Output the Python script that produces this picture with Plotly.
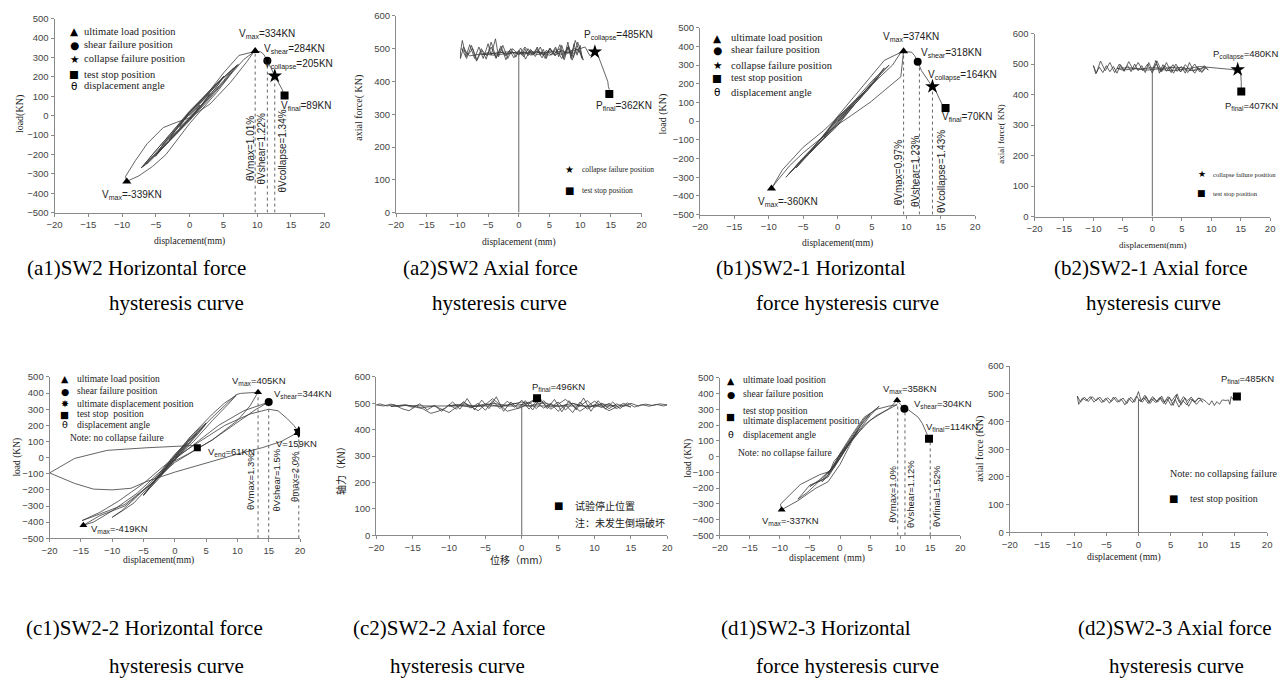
import plotly.graph_objects as go

W, H = 1287, 684
SANS = "Liberation Sans, Arial, sans-serif"
SERIF = "Liberation Serif, Times New Roman, serif"
CJK = "Noto Sans CJK SC, sans-serif"
LINE = "#3c3c3c"

# ---------------- data ----------------
# (a1) SW2 horizontal load
a1_disp = [0, 0.8, 1.5, 0.9, 0, -0.8, -1.5, -0.9, 0,
           1.5, 3, 2.2, 1, 0, -1.5, -3, -2.2, -1, 0,
           2.5, 5, 4, 2, 0, -2.5, -5, -4, -2, 0,
           2.6, 5.1, 3.8, 0, -2.6, -5.1, -3.8, 0,
           2, 4.5, 6.5, 5, 2.5, 0, -2.5, -4.5, -6.5, -5, -2.5, 0,
           3.5, 7, 5.5, 3, 0, -3.5, -6, -7, -5.5, -3, 0,
           3.6, 7.2, 5, 0, -3.6, -7.2, -5, 0,
           3, 5, 7.3, 9.5, 8.5, 6, 3, 0, -2, -3.9, -6.3, -8, -9.5, -9.3, -7.5, -5.5, -3.5, -2, 0,
           2, 4, 6, 8, 9.7, 10.5, 11, 11.5, 12, 12.6, 13.2, 13.7, 14.05]
a1_load = [0, 30, 55, 25, -8, -35, -60, -25, 8,
           60, 115, 75, 25, -15, -70, -125, -80, -30, 10,
           100, 200, 150, 65, -20, -110, -205, -150, -70, 20,
           110, 205, 140, -15, -115, -210, -140, 18,
           85, 180, 245, 180, 80, -15, -100, -180, -250, -190, -95, 15,
           150, 260, 190, 90, -25, -150, -240, -265, -200, -100, 25,
           150, 265, 175, -20, -150, -270, -180, 20,
           130, 220, 311, 330, 280, 170, 60, -10, -35, -61, -145, -230, -314, -339, -310, -262, -200, -130, -40,
           40, 120, 210, 290, 334, 330, 315, 284, 250, 205, 170, 135, 104]
a1_ult = ([9.7, -9.3], [334, -339])
a1_shear = ([11.5], [284])
a1_collapse = ([12.6], [205])
a1_final = ([14.05], [104])
a1_guides = ([9.7, 11.5, 12.6], [334, 284, 205])

# (a2) SW2 axial force
a2_disp = [0, 0.5, 1, 1.5, 2, 2.5, 3, 3.5, 4, 4.5, 5, 5.5, 6, 6.5, 7, 7.5, 8, 8.5, 9, 9.5, 10, 10.3,
           9.8, 9.2, 8.6, 8, 7.3, 6.6, 5.8, 5, 4, 3, 2, 1, 0, -1, -1.8, -2.6, -3.3, -3.8, -4.5, -5, -5.8, -6.5, -7.2, -8, -8.6, -9.2, -9.5,
           -9.5, -9, -8.3, -7.5, -6.8, -6, -5.2, -4.5, -3.7, -3, -2.2, -1.5, -0.8, 0, 0.8, 1.5, 2.3, 3, 3.8, 4.5, 5.3, 6, 7, 8, 8.7, 9.3, 10, 10.5,
           9.6, 8.9, 8.1, 7.4, 6.7, 5.9, 5.1, 4.3, 3.5, 2.7, 1.9, 1.1, 0.3, -0.5, -1.3, -2.1, -2.9, -3.7, -4.5, -5.3, -6.1, -6.9, -7.7, -8.5, -9.3,
           -8, -6, -4, -2, 0, 1, 2, 3, 4, 5, 6, 7, 8, 9, 10, 9, 8, 7, 6, 5, 4, 3, 2, 1, 0, -1, -2, -3, -4, -5, -6,
           -4, -2, 0, 2, 4, 6, 8, 9, 10, 10.8, 11.2, 11.6, 12.4,
           12.6, 13, 13.3, 13.8, 14.2, 14.5, 14.6, 14.75]
a2_force = [490, 480, 500, 478, 495, 485, 505, 480, 498, 470, 500, 490, 505, 475, 510, 480, 520, 470, 515, 480, 510, 470,
            495, 525, 478, 505, 470, 500, 485, 498, 478, 500, 482, 505, 480, 500, 470, 510, 475, 530, 480, 515, 470, 505, 470, 512, 475, 525, 490,
            470, 505, 480, 500, 465, 495, 478, 505, 470, 500, 478, 495, 472, 495, 475, 500, 480, 495, 472, 495, 480, 500, 470, 505, 465, 500, 490, 465,
            520, 472, 508, 466, 512, 478, 502, 470, 505, 476, 498, 468, 502, 474, 500, 466, 508, 472, 520, 468, 500, 462, 510, 470, 500,
            478, 484, 480, 486, 490, 484, 488, 482, 486, 480, 488, 482, 490, 486, 492, 500, 485, 495, 480, 490, 482, 492, 480, 490, 484, 488, 482, 490, 484, 488, 482, 486,
            490, 486, 490, 488, 492, 488, 495, 500, 505, 490, 478, 492, 490,
            475, 460, 440, 420, 400, 385, 375, 362]
a2_collapse = ([12.4], [490])
a2_final = ([14.75], [362])

# (b1) SW2-1 horizontal load
b1_disp = [0, 1, 2, 1.2, 0, -1, -2, -1.2, 0,
           2, 4, 3, 1, 0, -2, -4, -3, -1, 0,
           3, 6, 4.5, 2, 0, -3, -6, -4.5, -2, 0,
           2.5, 5, 7.5, 6, 3, 0, -2.5, -5.5, -7.5, -6, -3, 0,
           3.5, 6.8, 5.5, 2.5, 0, -3.5, -7, -5.5, -2.5, 0,
           3, 6.8, 9.2, 8, 6, 4, 2, 0, -2, -5, -8, -9.6, -9, -7, -5, -3, -1, 0, 2, 4.9, 7, 9.2,
           9.6, 10.3, 10.8, 11.2, 11.65, 12.2, 12.8, 13.3, 13.8, 14.3, 14.8, 15.2, 15.7]
b1_load = [0, 40, 80, 45, -5, -45, -85, -45, 5,
           80, 160, 110, 30, -15, -90, -170, -115, -35, 10,
           120, 240, 170, 70, -20, -130, -250, -180, -80, 20,
           110, 215, 300, 240, 120, -10, -110, -220, -300, -235, -120, 15,
           140, 285, 215, 90, -25, -150, -280, -215, -100, 25,
           160, 325, 368, 300, 230, 160, 90, 20, -50, -140, -260, -360, -330, -240, -170, -110, -50, -20, 30, 105, 170, 237,
           374, 372, 368, 350, 318, 270, 235, 210, 185, 160, 120, 90, 70]
b1_ult = ([9.6, -9.6], [374, -360])
b1_shear = ([11.65], [318])
b1_collapse = ([13.8], [185])
b1_final = ([15.7], [70])
b1_guides = ([9.6, 11.9, 13.8], [374, 300, 185])

# (b2) SW2-1 axial force
b2_disp = [0, 0.7, 1.4, 2.1, 2.8, 3.5, 4.2, 4.9, 5.6, 6.3, 7, 7.7, 8.4, 9.1, 9.5,
           8.8, 8, 7.2, 6.4, 5.6, 4.8, 4, 3.2, 2.4, 1.6, 0.8, 0, -0.8, -1.6, -2.4, -3.2, -4, -4.8, -5.6, -6.4, -7.2, -8, -8.8, -9.5, -10,
           -9.6, -9, -8.4, -7.8, -7.2, -6.6, -6, -5.4, -4.8, -4.2, -3.6, -3, -2.4, -1.8, -1.2, -0.6, 0, 0.6, 1.2, 1.8, 2.4, 3, 3.6, 4.2, 4.8, 5.4, 6, 6.6, 7.2, 7.8, 8.4, 9,
           7, 5, 3, 1, -1, -3, -5, -6,
           -4, -2, 0, 2, 4, 6, 8, 10, 11, 12, 13, 13.6, 14, 14.5,
           14.8, 15.0, 15.1, 15.1]
b2_force = [485, 500, 475, 495, 478, 498, 476, 492, 470, 505, 478, 490, 472, 488, 480,
            495, 475, 500, 480, 498, 475, 500, 472, 505, 475, 510, 470, 500, 478, 505, 480, 508, 476, 500, 472, 505, 478, 510, 470, 495,
            468, 490, 472, 495, 475, 492, 470, 498, 480, 495, 475, 500, 478, 495, 472, 505, 478, 512, 470, 498, 476, 492, 470, 488, 474, 490, 472, 485, 470, 488, 475, 490,
            478, 482, 478, 484, 480, 485, 480, 486,
            488, 484, 488, 486, 490, 485, 492, 488, 487, 486, 484, 482, 478, 482,
            476, 470, 440, 410]
b2_collapse = ([14.5], [482])
b2_final = ([15.1], [410])

# (c1) SW2-2 horizontal load
c1_disp = [0, 1, 2, 1, 0, -1, -2, -1, 0,
           2, 3.5, 2.5, 0.5, -1.5, -3.5, -2.5, -0.5, 0,
           2.5, 5, 4, 1.5, -1, -3, -5, -4, -1.5, 0,
           2.5, 5, 3.8, 0, -2.5, -5, -3.8, 0,
           3, 6, 8, 9.8, 8.5, 6, 3, 0, -3, -6.5, -8, -10, -8.5, -6, -3, 0,
           3, 6, 9, 9.8, 10.5, 12, 13.3,
           12, 10, 6, 2, 0, -4, -8, -12, -14.6,
           -13, -10, -6, -3, 0, 3, 7, 11, 14, 15,
           13, 10, 6, 2, 0, -4, -8, -12, -14.8,
           -12, -9, -5, -2, 0, 4, 8, 12, 15, 16.5, 18, 19, 19.8,
           17, 14, 10, 5, 0, -4.5, -7, -10, -13, -16, -20,
           -18, -16, -10.8, -4.5, 2.9, 3.6]
c1_load = [0, 50, 90, 40, -10, -50, -95, -45, 5,
           95, 150, 100, 10, -80, -160, -110, -15, 5,
           120, 210, 160, 50, -60, -150, -230, -180, -60, 10,
           130, 215, 155, 0, -120, -235, -170, 15,
           150, 270, 340, 385, 330, 230, 100, -10, -130, -280, -320, -370, -330, -240, -120, 20,
           130, 250, 360, 390, 398, 403, 405,
           320, 230, 110, 20, -30, -170, -300, -360, -419,
           -400, -330, -220, -110, -10, 80, 200, 290, 330, 344,
           300, 220, 110, 20, -20, -170, -290, -350, -390,
           -340, -270, -160, -60, 0, 100, 200, 270, 300, 290, 240, 200, 159,
           100, 62, 22, -35, -90, -148, -190, -200, -195, -160, -95,
           -50, -5, 45, 61, 75, 61]
c1_ult = ([13.3, -14.6], [405, -419])
c1_shear = ([15], [344])
c1_ultdisp = ([19.8], [159])
c1_final = ([3.6], [61])
c1_guides = ([13.3, 15, 19.8], [405, 344, 159])

# (c2) SW2-2 axial force
c2_disp = [0, 1, 2, 3, 4, 5, 6, 7, 8, 9, 10, 11, 12, 13, 14, 15, 16, 17, 18, 19, 20,
           19.5, 18.5, 17.5, 16.5, 15.5, 14.5, 13.5, 12.5, 11.5, 10.5, 9.5, 8.5, 7.5, 6.5, 5.5, 4.5, 3.5, 2.5, 1.5, 0.5,
           -0.5, -1.5, -2.5, -3.5, -4.5, -5.5, -6.5, -7.5, -8.5, -9.5, -10.5, -11.5, -12.5, -13.5, -14.5, -15.5, -16.5, -17.5, -18.5, -19.5, -20,
           -19, -18, -17, -16, -15, -14, -13, -12, -11, -10, -9, -8, -7, -6, -5, -4, -3, -2, -1, 0,
           1, 2, 3, 4, 5, 6, 7, 8, 9, 10, 11, 12, 13, 14, 15,
           14, 12, 10, 8, 6, 4, 2, 0, -2, -4, -6, -8, -10, -12, -14, -16, -18,
           -16, -13, 13, 11, 9, 7, 5, 3, 1, -1, -3, -5, -7, -9, -10,
           -8, -6, -4, -2, 0, 1, 2.1]
c2_force = [495, 505, 480, 510, 485, 505, 475, 500, 490, 510, 485, 500, 480, 498, 488, 500, 490, 497, 492, 498, 494,
            490, 496, 489, 495, 486, 502, 480, 505, 478, 510, 470, 520, 475, 510, 468, 515, 480, 520, 475, 510,
            480, 505, 470, 525, 480, 512, 475, 518, 478, 505, 482, 470, 462, 478, 490, 472, 480, 495, 490, 498, 494,
            490, 497, 488, 493, 485, 498, 475, 492, 470, 495, 478, 505, 482, 500, 474, 510, 480, 508, 485, 512,
            478, 506, 482, 500, 470, 495, 465, 505, 478, 495, 484, 500, 480, 494, 486,
            500, 472, 508, 470, 515, 478, 520, 485, 470, 518, 472, 505, 465, 490, 482, 495, 488,
            492, 490, 490, 498, 486, 500, 488, 502, 490, 500, 488, 498, 485, 496, 490,
            495, 488, 500, 492, 505, 498, 519]
c2_final = ([2.1], [519])

# (d1) SW2-3 horizontal load
d1_disp = [0, 1, 2, 1, 0, -1, -2, -1, 0,
           1.5, 3, 2, 0.5, -1, -2.5, -3, -2, -0.5, 0,
           2, 4, 5, 3.5, 1.5, -0.5, -2, -4, -5, -3.5, -1.5, 0,
           2, 4, 6.5, 5, 3, 1, -1, -3, -5, -7, -5.5, -3, -1, 0,
           2, 4, 6, 8, 9.5, 7.5, 5, 3, 1, -1, -1.7, -3.4, -6.6, -9.9, -9.7, -7, -4, -2, 0,
           2, 4, 6, 8, 9.5, 10.1, 10.7, 11.3, 11.8, 12.4, 13, 13.7, 14.3, 14.8]
d1_load = [0, 60, 110, 50, -10, -60, -110, -50, 5,
           90, 170, 110, 20, -70, -140, -160, -120, -30, 10,
           120, 230, 270, 200, 80, -40, -130, -165, -190, -150, -80, 15,
           130, 240, 320, 260, 160, 50, -60, -150, -180, -270, -230, -140, -60, 20,
           140, 250, 300, 320, 330, 290, 230, 150, 60, -30, -94, -115, -177, -302, -337, -280, -200, -160, -50,
           100, 200, 260, 300, 358, 330, 304, 300, 285, 265, 250, 210, 160, 114]
d1_ult = ([9.5, -9.7], [358, -337])
d1_shear = ([10.7], [304])
d1_final = ([14.8], [114])
d1_guides = ([9.6, 10.8, 15.0], [358, 304, 114])

# (d2) SW2-3 axial force
d2_disp = [0, 0.6, 1.2, 1.8, 2.4, 3, 3.6, 4.2, 4.8, 5.4, 6, 6.6, 7.2, 7.8, 8.4, 9, 9.6, 10,
           9.4, 8.8, 8.2, 7.6, 7, 6.4, 5.8, 5.2, 4.6, 4, 3.4, 2.8, 2.2, 1.6, 1, 0.4, 0, -0.6, -1.2, -1.8, -2.4, -3, -3.6, -4.2, -4.8, -5.4, -6, -6.6, -7.2, -7.8, -8.4, -9, -9.5,
           -9.3, -8.7, -8.1, -7.5, -6.9, -6.3, -5.7, -5.1, -4.5, -3.9, -3.3, -2.7, -2.1, -1.5, -0.9, -0.3, 0.3, 0.9, 1.5, 2.1, 2.7, 3.3, 3.9, 4.5, 5.1, 5.7, 6.3, 6.9, 7.5, 8.1, 8.7, 9.3,
           10, 10.5, 11, 11.4, 11.8, 12.2, 12.6, 13, 13.6, 14, 14.2, 14.4, 14.7, 15.3]
d2_force = [480, 470, 490, 465, 485, 470, 492, 462, 488, 458, 500, 460, 485, 455, 480, 462, 478, 470,
            485, 470, 488, 475, 490, 468, 495, 475, 490, 470, 488, 472, 490, 470, 495, 475, 508, 470, 488, 465, 485, 470, 488, 472, 486, 470, 488, 475, 490, 472, 488, 470, 492,
            462, 485, 475, 490, 470, 486, 468, 484, 466, 488, 470, 482, 460, 484, 468, 492, 472, 486, 465, 482, 468, 486, 465, 482, 458, 480, 452, 476, 460, 482, 470, 485,
            480, 472, 460, 475, 458, 472, 462, 478, 476, 478, 462, 490, 480, 490]
d2_final = ([15.3], [490])

# axial reference line at zero displacement (top of line)
axial_zero_top = {2: 488, 4: 480, 6: 492, 8: 478}

# ---------------- layout helpers ----------------
def px(x):
    return x / W


def py(y):
    return 1 - y / H


panels = {
    1: dict(x=(47, 320), y=(13, 210), yr=(-500, 500)),
    2: dict(x=(392, 640), y=(10, 210), yr=(0, 600)),
    3: dict(x=(699, 977), y=(22, 212), yr=(-500, 500)),
    4: dict(x=(1037, 1275), y=(28, 214), yr=(0, 600)),
    5: dict(x=(42, 295), y=(377, 541), yr=(-500, 500)),
    6: dict(x=(372, 666), y=(377, 538), yr=(0, 600)),
    7: dict(x=(719, 962), y=(378, 538), yr=(-500, 500)),
    8: dict(x=(1012, 1272), y=(366, 535), yr=(0, 600)),
}

fig = go.Figure()
layout = {}
for i, p in panels.items():
    sx = "" if i == 1 else str(i)
    layout["xaxis" + sx] = dict(
        domain=[px(p["x"][0]), px(p["x"][1])], anchor="y" + sx,
        range=[-20, 20], tickvals=[-20, -15, -10, -5, 0, 5, 10, 15, 20],
        showline=True, linecolor="#8a8a8a", linewidth=1, ticks="outside", ticklen=3,
        tickcolor="#8a8a8a", showgrid=False, zeroline=False,
        tickfont=dict(family=SANS, size=9.5, color="#444"), fixedrange=True)
    yt = list(range(p["yr"][0], p["yr"][1] + 1, 100))
    layout["yaxis" + sx] = dict(
        domain=[py(p["y"][1]), py(p["y"][0])], anchor="x" + sx,
        range=list(p["yr"]), tickvals=yt,
        showline=True, linecolor="#8a8a8a", linewidth=1, ticks="outside", ticklen=3,
        tickcolor="#8a8a8a", showgrid=False, zeroline=False,
        tickfont=dict(family=SANS, size=9.5, color="#444"), fixedrange=True)


def refs(i):
    return ("x", "y") if i == 1 else (f"x{i}", f"y{i}")


def curve(i, xs, ys, width=0.8, color=LINE, dash="solid"):
    xr, yr = refs(i)
    fig.add_trace(go.Scatter(x=xs, y=ys, mode="lines", xaxis=xr, yaxis=yr,
                             line=dict(color=color, width=width, dash=dash),
                             hoverinfo="skip", showlegend=False))


def marks(i, pts, symbol, size=8):
    xr, yr = refs(i)
    fig.add_trace(go.Scatter(x=pts[0], y=pts[1], mode="markers", xaxis=xr, yaxis=yr,
                             marker=dict(symbol=symbol, size=size, color="black"),
                             hoverinfo="skip", showlegend=False))


def guides(i, g, ybase=-500):
    for gx, gy in zip(g[0], g[1]):
        curve(i, [gx, gx], [ybase, gy], width=0.9, color="#555", dash="dot")


annotations = []


def note(i, x, y, text, size=10, xanchor="center", font=SANS, angle=0, color="#222"):
    xr, yr = refs(i)
    annotations.append(dict(x=x, y=y, xref=xr, yref=yr, text=text, showarrow=False,
                            xanchor=xanchor, yanchor="middle", textangle=angle,
                            font=dict(family=font, size=size, color=color)))


def pnote(x, y, text, size=10, font=SERIF, angle=0, xanchor="center", color="#222"):
    annotations.append(dict(x=px(x), y=py(y), xref="paper", yref="paper", text=text,
                            showarrow=False, xanchor=xanchor, yanchor="middle",
                            textangle=angle, font=dict(family=font, size=size, color=color)))


def legend_rows(i, sx, tx, rows, size=10.5, symsize=None):
    for sym, txt, y in rows:
        if sym:
            note(i, sx, y, sym, size=symsize or size, font="DejaVu Sans", color="black")
        note(i, tx, y, txt, size=size, xanchor="left", font=SERIF)


# ---------------- panel a1 ----------------
curve(1, a1_disp, a1_load)
guides(1, a1_guides)
marks(1, a1_ult, "triangle-up", 8)
marks(1, a1_shear, "circle", 8)
marks(1, a1_collapse, "star", 11)
marks(1, a1_final, "square", 8)
note(1, 11.5, 420, "V<sub>max</sub>=334KN")
note(1, 15.5, 345, "V<sub>shear</sub>=284KN")
note(1, 16.1, 262, "V<sub>collapse</sub>=205KN")
note(1, 17.2, 49, "V<sub>final</sub>=89KN")
note(1, -8.5, -410, "V<sub>max</sub>=-339KN")
note(1, 9.0, -170, "θVmax=1.01%", angle=-90)
note(1, 10.7, -170, "θVshear=1.22%", angle=-90)
note(1, 13.8, -180, "θVcollapse=1.34%", angle=-90)
legend_rows(1, -17.1, -15.9, [("▲", "ultimate load position", 437),
                             ("●", "shear failure position", 365),
                             ("★", "collapse failure position", 294),
                             ("■", "test stop position", 215),
                             ("θ", "displacement angle", 154)])

# ---------------- panel a2 ----------------
curve(2, a2_disp, a2_force)
curve(2, [0, 0], [0, axial_zero_top[2]], width=0.9, color="#555")
marks(2, a2_collapse, "star", 11)
marks(2, a2_final, "square", 8)
note(2, 16.2, 540, "P<sub>collapse</sub>=485KN")
note(2, 17.1, 325, "P<sub>final</sub>=362KN")
legend_rows(2, 8.3, 10.0, [("★", "collapse failure position", 130),
                          ("■", "test stop position", 67)], size=7.5, symsize=10)

# ---------------- panel b1 ----------------
curve(3, b1_disp, b1_load)
guides(3, b1_guides)
marks(3, b1_ult, "triangle-up", 8)
marks(3, b1_shear, "circle", 8)
marks(3, b1_collapse, "star", 11)
marks(3, b1_final, "square", 8)
note(3, 10.7, 451, "V<sub>max</sub>=374KN")
note(3, 11.9, 363, "V<sub>shear</sub>=318KN", xanchor="left")
note(3, 12.8, 242, "V<sub>collapse</sub>=164KN", xanchor="left")
note(3, 14.9, 21, "V<sub>final</sub>=70KN", xanchor="left")
note(3, -7.2, -433, "V<sub>max</sub>=-360KN")
note(3, 8.9, -275, "θVmax=0.97%", angle=-90)
note(3, 11.3, -265, "θVshear=1.23%", angle=-90)
note(3, 15.1, -270, "θVcollapse=1.43%", angle=-90)
legend_rows(3, -17.5, -15.8, [("▲", "ultimate load position", 447),
                             ("●", "shear failure position", 382),
                             ("★", "collapse failure position", 298),
                             ("■", "test stop position", 232),
                             ("θ", "displacement angle", 154)])

# ---------------- panel b2 ----------------
curve(4, b2_disp, b2_force)
curve(4, [0, 0], [0, axial_zero_top[4]], width=0.9, color="#555")
marks(4, b2_collapse, "star", 11)
marks(4, b2_final, "square", 8)
note(4, 15.9, 531, "P<sub>collapse</sub>=480KN", size=9.5)
note(4, 16.9, 362, "P<sub>final</sub>=407KN", size=9.5)
legend_rows(4, 8.4, 9.9, [("★", "collapse failure position", 139),
                         ("■", "test stop position", 76)], size=6.5, symsize=9)

# ---------------- panel c1 ----------------
curve(5, c1_disp, c1_load)
guides(5, c1_guides)
marks(5, c1_ult, "triangle-up", 7)
marks(5, c1_shear, "circle", 8)
marks(5, c1_ultdisp, "hexagram", 9)
marks(5, c1_final, "square", 7)
note(5, 13.5, 474, "V<sub>max</sub>=405KN", size=9.5)
note(5, 15.5, 392, "V<sub>shear</sub>=344KN", size=9.5, xanchor="left")
note(5, 15.9, 87, "V=159KN", size=9.5, xanchor="left")
note(5, 5.0, 36, "V<sub>end</sub>=61KN", size=9.5, xanchor="left")
note(5, -8.8, -443, "V<sub>max</sub>=-419KN", size=9.5)
note(5, 12.1, -148, "θVmax=1.3%", angle=-90, size=9.5)
note(5, 16.2, -140, "θVshear=1.5%", angle=-90, size=9.5)
note(5, 19.2, -120, "θmax=2.0%", angle=-90, size=9.5)
legend_rows(5, -17.6, -16.0, [("▲", "ultimate load position", 488),
                             ("●", "shear failure position", 412),
                             ("✸", "ultimate displacement position", 335),
                             ("■", "test stop  position", 270),
                             ("θ", "displacement angle", 203)], size=9.5)
note(5, -17.1, 123, "Note: no collapse failure", size=9.5, xanchor="left", font=SERIF)

# ---------------- panel c2 ----------------
curve(6, c2_disp, c2_force)
curve(6, [0, 0], [0, axial_zero_top[6]], width=0.9, color="#555")
marks(6, c2_final, "square", 8)
note(6, 5.1, 561, "P<sub>final</sub>=496KN", size=9.5)
note(6, 5.0, 112, "■", size=10, font="DejaVu Sans", color="black")
note(6, 7.1, 112, "试验停止位置", size=10, xanchor="left", font=CJK)
note(6, 7.1, 47, "注：未发生倒塌破坏", size=10, xanchor="left", font=CJK)

# ---------------- panel d1 ----------------
curve(7, d1_disp, d1_load)
guides(7, d1_guides)
marks(7, d1_ult, "triangle-up", 7)
marks(7, d1_shear, "circle", 8)
marks(7, d1_final, "square", 8)
note(7, 11.6, 431, "V<sub>max</sub>=358KN", size=9.5)
note(7, 11.9, 333, "V<sub>shear</sub>=304KN", size=9.5, xanchor="left")
note(7, 14.0, 188, "V<sub>final</sub>=114KN", size=9.5, xanchor="left")
note(7, -8.3, -406, "V<sub>max</sub>=-337KN", size=9.5)
note(7, 8.7, -240, "θVmax=1.0%", angle=-90, size=9.5)
note(7, 11.75, -240, "θVshear=1.12%", angle=-90, size=9.5)
note(7, 16.15, -250, "θVfinal=1.52%", angle=-90, size=9.5)
legend_rows(7, -18.2, -16.5, [("▲", "ultimate load position", 485),
                             ("●", "shear failure position", 396),
                             ("", "test stop position", 287),
                             ("", "ultimate displacement position", 228),
                             ("θ", "displacement angle", 140)], size=9.5)
note(7, -18.2, 258, "■", size=9.5, font="DejaVu Sans", color="black")
note(7, -17.3, 21, "Note: no collapse failure", size=9.5, xanchor="left", font=SERIF)

# ---------------- panel d2 ----------------
curve(8, d2_disp, d2_force)
curve(8, [0, 0], [0, axial_zero_top[8]], width=0.9, color="#555")
marks(8, d2_final, "square", 8)
note(8, 17.0, 554, "P<sub>final</sub>=485KN", size=9.5)
note(8, 4.6, 213, "Note: no collapsing failure", size=10, xanchor="left", font=SERIF)
note(8, 5.5, 122, "■", size=10, font="DejaVu Sans", color="black")
note(8, 7.7, 122, "test stop position", size=10, xanchor="left", font=SERIF)

# ---------------- axis titles ----------------
pnote(12, 110, "load(KN)", angle=-90)
pnote(183, 239, "displacement(mm)", size=9.5)
pnote(355, 103, "axial force( KN)", angle=-90)
pnote(516, 240, "displacement (mm)", size=9.5)
pnote(662, 110, "load (KN)", angle=-90)
pnote(838, 241, "displacement(mm)", size=9.5)
pnote(1003, 130, "axial force( KN)", angle=-90, size=9)
pnote(1156, 243, "displacement(mm)", size=9)
pnote(10, 458, "load (KN)", angle=-90, size=9.5)
pnote(152, 564, "displacement(mm)", size=9.5)
pnote(336, 470, "轴力（KN）", angle=-90, font=CJK)
pnote(517, 563, "位移（mm）", font=CJK)
pnote(688, 460, "load (KN)", angle=-90, size=9.5)
pnote(827, 562, "displacement  (mm)", size=9.5)
pnote(982, 450, "axial force (KN)", angle=-90)
pnote(1127, 561, "displacement (mm)", size=9.5)

# ---------------- captions ----------------
CAP = 21
R1A, R1B, R2A, R2B = 266, 302, 632, 671
captions = [
    (17, R1A, "(a1)SW2 Horizontal force", "left"), (170, R1B, "hysteresis curve", "center"),
    (397, R1A, "(a2)SW2 Axial force", "left"), (497, R1B, "hysteresis curve", "center"),
    (713, R1A, "(b1)SW2-1 Horizontal", "left"), (848, R1B, "force hysteresis curve", "center"),
    (1055, R1A, "(b2)SW2-1 Axial force", "left"), (1157, R1B, "hysteresis curve", "center"),
    (16, R2A, "(c1)SW2-2 Horizontal force", "left"), (170, R2B, "hysteresis curve", "center"),
    (346, R2A, "(c2)SW2-2 Axial force", "left"), (454, R2B, "hysteresis curve", "center"),
    (718, R2A, "(d1)SW2-3 Horizontal", "left"), (848, R2B, "force hysteresis curve", "center"),
    (1079, R2A, "(d2)SW2-3 Axial force", "left"), (1180, R2B, "hysteresis curve", "center"),
]
for cx, cy, txt, anc in captions:
    pnote(cx, cy, txt, size=CAP, xanchor=anc, color="black")

layout.update(dict(
    width=W, height=H, margin=dict(l=0, r=0, t=0, b=0),
    paper_bgcolor="white", plot_bgcolor="white",
    showlegend=False, annotations=annotations,
))
fig.update_layout(**layout)
fig.write_html("out.html", post_script="document.body.style.margin='0';",
               config={"displayModeBar": False})
